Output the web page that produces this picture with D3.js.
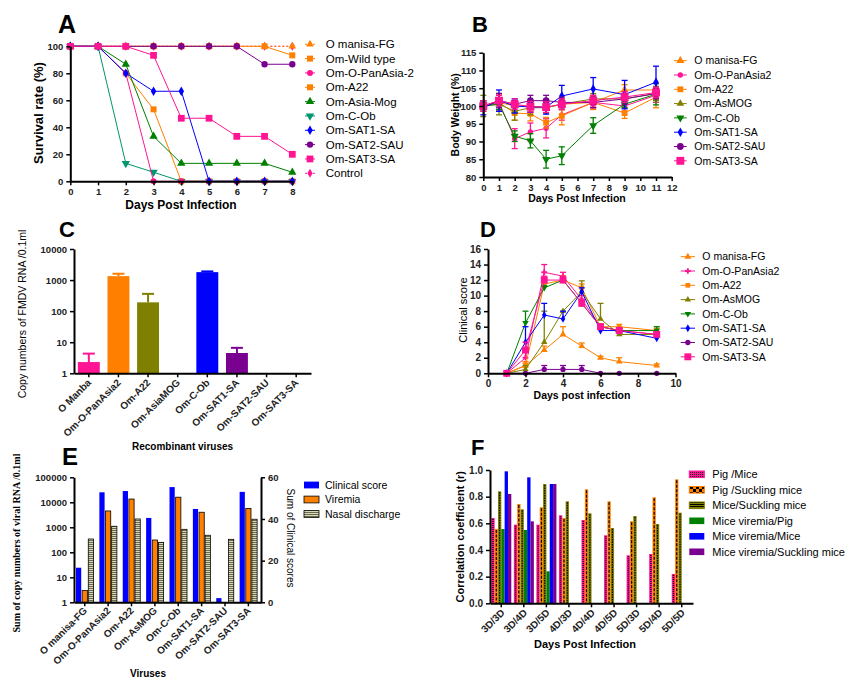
<!DOCTYPE html>
<html><head><meta charset="utf-8">
<script src="https://cdn.jsdelivr.net/npm/d3@7"></script>
<style>body{margin:0;background:#fff;}</style>
</head><body>
<svg id="c" width="857" height="690"></svg>
<script>
// ================= DATA =================
// Panel A – survival rate (%)
const daysA = [0,1,2,3,4,5,6,7,8];
const namesA = ["O manisa-FG","Om-Wild type","Om-O-PanAsia-2","Om-A22","Om-Asia-Mog","Om-C-Ob","Om-SAT1-SA","Om-SAT2-SAU","Om-SAT3-SA","Control"];
const survOManisaFG = [100,100,100,100,100,100,100,100,100];
const survWildType  = [100,100,100,100,100,100,100,100,93.3];
const survOPanAsia2 = [100,100,80,0,0,0,0,0,0];
const survA22       = [100,100,80,53.3,0,0,0,0,0];
const survAsiaMog   = [100,100,86.7,33.3,13.3,13.3,13.3,13.3,6.7];
const survCOb       = [100,100,13.3,6.7,0,0,0,0,0];
const survSAT1      = [100,100,80,66.7,66.7,0,0,0,0];
const survSAT2      = [100,100,100,100,100,100,100,86.7,86.7];
const survSAT3      = [100,100,100,93.3,46.7,46.7,33.3,33.3,20];
const survControl   = [100,100,100,100,100,100,100,100,100];
const ticksAy = [0,20,40,60,80,100];

// Panel B – body weight (%)
const daysB = [0,1,2,3,4,5,7,9,11];
const namesB = ["O manisa-FG","Om-O-PanAsia2","Om-A22","Om-AsMOG","Om-C-Ob","Om-SAT1-SA","Om-SAT2-SAU","Om-SAT3-SA"];
const bwOManisaFG = [100,101,100,100,99.5,100.5,101,104.5,104.5];
const bwOPanAsia2 = [100,101,90.8,92.7,93.7,97.5,101,100,103];
const bwA22       = [100,101,98,97.8,95.3,97.2,101,98,102.5];
const bwAsMOG     = [100,100.5,98.5,99.5,99.5,100.5,102,102,103.5];
const bwCOb       = [100,100.5,91.5,90.2,85,86,94.5,100.5,103.3];
const bwSAT1      = [99.5,101.5,100,99.7,99.7,102.8,104.8,103.2,106.7];
const bwSAT2      = [100,101.5,100.5,101.5,101.5,101,101,102,103.5];
const bwSAT3      = [100,101.5,100.5,99.8,99.7,100.5,101.5,102.5,103.8];
const bwErrOManisaFG = [1.5,2.5,1.5,1.5,1.5,1.5,1.5,1.5,2];
const bwErrOPanAsia2 = [1.5,2.5,2.8,2.5,2.7,1.5,1.5,1.5,2];
const bwErrA22       = [1,2,2,2,1.5,2.5,2,1.5,3];
const bwErrAsMOG     = [3,3,2.5,2,1.5,1.5,1.5,1.5,2];
const bwErrCOb       = [1,1.5,1.5,2,2.5,2.5,2.2,1,3];
const bwErrSAT1      = [2,3,2,1.5,2,3,3.2,4,4.5];
const bwErrSAT2      = [1,2,1,1.5,1.5,1.5,1.5,1.5,1.5];
const bwErrSAT3      = [1.5,1.5,1.5,1.5,1.5,1.5,1.5,1.5,1.5];
const ticksBy = [80,85,90,95,100,105,110,115];
const ticksBx = [0,1,2,3,4,5,6,7,8,9,10,11,12];

// Panel C – viral RNA copies
const virusesC = ["O Manba","Om-O-PanAsia2","Om-A22","Om-AsiaMOG","Om-C-Ob","Om-SAT1-SA","Om-SAT2-SAU","Om-SAT3-SA"];
const copiesC    = [2.3,1340,192,0,1800,4.5,0,0];
const copiesErrC = [2.0,260,168,0,100,2.1,0,0];
const ticksCy = [1,10,100,1000,10000];

// Panel D – clinical score
const daysD = [1,2,3,4,5,6,7,9];
const namesD = ["O manisa-FG","Om-O-PanAsia2","Om-A22","Om-AsMOG","Om-C-Ob","Om-SAT1-SA","Om-SAT2-SAU","Om-SAT3-SA"];
const csOManisaFG = [0,1,3,5,3.5,2,1.5,1];
const csOPanAsia2 = [0,2,13,12.5,9.5,6,5.5,5];
const csA22       = [0,1,11.5,12,11,6,6,5.5];
const csAsMOG     = [0,0.5,4,8,10.5,7,5,5];
const csCOb       = [0,6.5,11,12,9,6,5.5,5.5];
const csSAT1      = [0,4,7.5,7,10.5,5.5,5.5,4.5];
const csSAT2      = [0,0,0.5,0.5,0.5,0,0,0];
const csSAT3      = [0,3,12,12,9,6,5.5,5];
const csErrOManisaFG = [0,0.3,0.5,1,0.4,0.2,0.5,0.2];
const csErrOPanAsia2 = [0,1,1,0.5,0.5,0.3,0.3,0.3];
const csErrA22       = [0,0.5,0.5,0.5,0.5,0.3,0.3,0.3];
const csErrAsMOG     = [0,0.5,4,0,1.4,2,0.3,0.3];
const csErrCOb       = [0,1.5,0.3,0.3,0.3,0.3,0.3,0.5];
const csErrSAT1      = [0,2,1.5,1,0.5,0.3,0.3,0.3];
const csErrSAT2      = [0,0,0.5,0.5,0.5,0,0,0];
const csErrSAT3      = [0,1,0.5,0.5,0.5,0.3,0.3,0.3];
const ticksDy = [0,2,4,6,8,10,12,14,16];
const ticksDx = [0,2,4,6,8,10];

// Panel E – sums
const virusesE = ["O manisa-FG","Om-O-PanAsia2","Om-A22","Om-AsMOG","Om-C-Ob","Om-SAT1-SA","Om-SAT2-SAU","Om-SAT3-SA"];
const clinicalSumE = [16.6,52.8,53.4,40.5,55.3,44.8,2,53];
const viremiaE     = [3,4500,13500,310,16000,4000,0,5700];
const nasalE       = [340,1100,2150,250,830,480,330,2100];
const legendE = ["Clinical score","Viremia","Nasal discharge"];
const ticksEl = [1,10,100,1000,10000,100000];
const ticksEr = [0,20,40,60];

// Panel F – correlation coefficients
const pairsF = ["3D/3D","3D/4D","3D/5D","4D/3D","4D/4D","4D/5D","5D/3D","5D/4D","5D/5D"];
const namesF = ["Pig /Mice","Pig /Suckling mice","Mice/Suckling mice","Mice viremia/Pig","Mice viremia/Mice","Mice viremia/Suckling mice"];
const pigMiceF         = [0.64,0.59,0.59,0.66,0.625,0.51,0.36,0.37,0.22];
const pigSucklingF     = [0.557,0.745,0.72,0.64,0.855,0.765,0.615,0.795,0.93];
const miceSucklingF    = [0.84,0.705,0.895,0.765,0.675,0.565,0.655,0.595,0.68];
const viremiaPigF      = [0.557,0.55,0.24,0,0,0,0,0,0];
const viremiaMiceF     = [0.99,0.945,0.895,0,0,0,0,0,0];
const viremiaSucklingF = [0.82,0.615,0.895,0,0,0,0,0,0];
const ticksFy = [0,0.2,0.4,0.6,0.8,1.0];

// ================= STYLE =================
const FONT = '"Liberation Sans", Arial, sans-serif';
const TICKC = "#222";
const PINK = "#ff1493", ORANGE = "#ff8000", GREEN = "#008000", TEAL = "#00966e",
      BLUE = "#0000ff", PURPLE = "#7a0090", OLIVE = "#808000";

const svg = d3.select("#c");
svg.append("rect").attr("width",857).attr("height",690).attr("fill","#fff");
const defs = svg.append("defs");

function pattern(id, w, h, bg, draw){
  const p = defs.append("pattern").attr("id",id).attr("patternUnits","userSpaceOnUse").attr("width",w).attr("height",h);
  p.append("rect").attr("width",w).attr("height",h).attr("fill",bg);
  draw(p);
}
pattern("pPink",2,2,PINK,p=>{p.append("rect").attr("width",1).attr("height",1).attr("fill","#222");});
pattern("pOrange",6,6,ORANGE,p=>{p.append("rect").attr("width",3).attr("height",3).attr("fill","#000");p.append("rect").attr("x",3).attr("y",3).attr("width",3).attr("height",3).attr("fill","#000");});
pattern("pOlive",4,2,OLIVE,p=>{p.append("rect").attr("width",4).attr("height",1).attr("fill","#000");});
pattern("pNasal",4,2,"#d8d8b4",p=>{p.append("rect").attr("width",4).attr("height",1).attr("fill","#6a6a50");});

function styleAxis(g, fs){
  g.select(".domain").attr("stroke","#000").attr("stroke-width",2);
  g.selectAll(".tick line").attr("stroke","#000").attr("stroke-width",1.5);
  g.selectAll(".tick text").attr("font-family",FONT).attr("font-size",fs).attr("font-weight","bold").attr("fill",TICKC);
}
function rotTicks(g, dx, dy){
  g.selectAll(".tick text").attr("x",0).attr("y",0).attr("dy",0)
    .attr("text-anchor","end").attr("transform",`translate(${dx},${dy}) rotate(-45)`);
}
function txt(t, x, y, fs, opt={}){
  const e = svg.append("text").attr("x",0).attr("y",0).text(t)
    .attr("font-family",opt.family||FONT).attr("font-size",fs)
    .attr("font-weight",opt.bold?"bold":"normal").attr("fill",opt.fill||"#000")
    .attr("text-anchor",opt.anchor||"start")
    .attr("transform",`translate(${x},${y})${opt.rot?` rotate(${opt.rot})`:""}`);
  return e;
}
function symPath(st){
  const types = {tri:d3.symbolTriangle, down:d3.symbolTriangle, sq:d3.symbolSquare, circ:d3.symbolCircle, dia:d3.symbolDiamond, cross:d3.symbolCross};
  return d3.symbol().type(types[st.shape]).size(st.size)();
}
function drawSeries(g, xs, ys, xv, vals, st, errs, both){
  const line = d3.line().x((d,i)=>xs(xv[i])).y(d=>ys(d));
  g.append("path").attr("d",line(vals)).attr("fill","none").attr("stroke",st.color)
    .attr("stroke-width",st.w||1).attr("stroke-dasharray",st.dash||null);
  if(errs){
    vals.forEach((v,i)=>{
      if(!errs[i]) return;
      const x = xs(xv[i]);
      const ends = both ? [v+errs[i], v-errs[i]] : [v+errs[i]];
      ends.forEach(e=>{
        g.append("line").attr("x1",x).attr("x2",x).attr("y1",ys(v)).attr("y2",ys(e)).attr("stroke",st.color).attr("stroke-width",1.3);
        g.append("line").attr("x1",x-3).attr("x2",x+3).attr("y1",ys(e)).attr("y2",ys(e)).attr("stroke",st.color).attr("stroke-width",1.3);
      });
    });
  }
  const sp = symPath(st);
  g.selectAll(null).data(vals).join("path").attr("d",sp).attr("fill",st.color)
    .attr("transform",(d,i)=>`translate(${xs(xv[i])},${ys(d)})${st.shape==="down"?" rotate(180)":""}`);
}
function legendRow(x1, x2, xt, y, name, st, fs){
  svg.append("line").attr("x1",x1).attr("x2",x2).attr("y1",y).attr("y2",y).attr("stroke",st.color)
    .attr("stroke-width",st.w||1).attr("stroke-dasharray",st.dash||null);
  svg.append("path").attr("d",symPath(st)).attr("fill",st.color)
    .attr("transform",`translate(${(x1+x2)/2},${y})${st.shape==="down"?" rotate(180)":""}`);
  txt(name, xt, y+fs*0.36, fs);
}

// ================= PANEL A =================
{
  const x = d3.scaleLinear().domain([0,8]).range([70.3,292.3]);
  const y = d3.scaleLinear().domain([0,100]).range([181.3,46.3]);
  const g = svg.append("g");
  const stA = [
    {color:ORANGE,shape:"tri",size:26,dash:"2,2"},
    {color:ORANGE,shape:"sq",size:36},
    {color:PINK,shape:"circ",size:28},
    {color:ORANGE,shape:"sq",size:36},
    {color:GREEN,shape:"tri",size:30},
    {color:TEAL,shape:"down",size:30},
    {color:BLUE,shape:"dia",size:26},
    {color:PURPLE,shape:"circ",size:32},
    {color:PINK,shape:"sq",size:46},
    {color:PINK,shape:"dia",size:24,dash:"2,2"}
  ];
  const valsA = [survOManisaFG,survWildType,survOPanAsia2,survA22,survAsiaMog,survCOb,survSAT1,survSAT2,survSAT3,survControl];
  const order = [9,0,1,7,3,4,5,2,6,8];
  order.forEach(i=>drawSeries(g,x,y,daysA,valsA[i],stA[i]));
  const ax = svg.append("g").attr("transform",`translate(0,${y(0)})`)
    .call(d3.axisBottom(x).tickValues(daysA).tickSize(4).tickSizeOuter(0).tickPadding(3));
  styleAxis(ax,9.5);
  const ay = svg.append("g").attr("transform",`translate(${x(0)},0)`)
    .call(d3.axisLeft(y).tickValues(ticksAy).tickSize(4).tickSizeOuter(0).tickPadding(3));
  styleAxis(ay,9.5);
  namesA.forEach((n,i)=>legendRow(305,315,325.7,44.3+i*14.33,n,stA[i],11.5));
  txt("A",58,33,25,{bold:true});
  txt("Survival rate (%)",43,113,13,{bold:true,anchor:"middle",rot:-90});
  txt("Days Post Infection",181,209,12,{bold:true,anchor:"middle"});
}

// ================= PANEL B =================
{
  const x = d3.scaleLinear().domain([0,12]).range([483.3,671.7]);
  const y = d3.scaleLinear().domain([80,115]).range([177,52.7]);
  const g = svg.append("g");
  const stB = [
    {color:ORANGE,shape:"tri",size:28},
    {color:PINK,shape:"circ",size:22},
    {color:ORANGE,shape:"sq",size:34},
    {color:OLIVE,shape:"tri",size:26},
    {color:GREEN,shape:"down",size:28},
    {color:BLUE,shape:"dia",size:26},
    {color:PURPLE,shape:"circ",size:36},
    {color:PINK,shape:"sq",size:62}
  ];
  const valsB = [bwOManisaFG,bwOPanAsia2,bwA22,bwAsMOG,bwCOb,bwSAT1,bwSAT2,bwSAT3];
  const errB = [bwErrOManisaFG,bwErrOPanAsia2,bwErrA22,bwErrAsMOG,bwErrCOb,bwErrSAT1,bwErrSAT2,bwErrSAT3];
  valsB.forEach((v,i)=>drawSeries(g,x,y,daysB,v,stB[i],errB[i],true));
  const ax = svg.append("g").attr("transform",`translate(0,${y(80)})`)
    .call(d3.axisBottom(x).tickValues(ticksBx).tickSize(4).tickSizeOuter(0).tickPadding(3));
  styleAxis(ax,9.5);
  const ay = svg.append("g").attr("transform",`translate(${x(0)},0)`)
    .call(d3.axisLeft(y).tickValues(ticksBy).tickSize(4).tickSizeOuter(0).tickPadding(3));
  styleAxis(ay,9.5);
  namesB.forEach((n,i)=>legendRow(674,686.7,694.3,60.7+i*14.3,n,stB[i],10.5));
  txt("B",472,32,22,{bold:true});
  txt("Body Weight (%)",459,114.8,10.5,{bold:true,anchor:"middle",rot:-90});
  txt("Days Post Infection",577,202,10.5,{bold:true,anchor:"middle"});
}

// ================= PANEL C =================
{
  const x = d3.scaleBand().domain(virusesC).range([74,311]).paddingInner(0.26).paddingOuter(0.13);
  const y = d3.scaleLog().domain([1,10000]).range([373.3,249]);
  const colC = [PINK,ORANGE,OLIVE,OLIVE,BLUE,PURPLE,"#000","#000"];
  const g = svg.append("g");
  virusesC.forEach((c,i)=>{
    const v = copiesC[i]; if(!v) return;
    const cx = x(c)+x.bandwidth()/2;
    const top = v+copiesErrC[i];
    g.append("line").attr("x1",cx).attr("x2",cx).attr("y1",y(v)).attr("y2",y(top)).attr("stroke",colC[i]).attr("stroke-width",2);
    g.append("line").attr("x1",cx-6).attr("x2",cx+6).attr("y1",y(top)).attr("y2",y(top)).attr("stroke",colC[i]).attr("stroke-width",2);
    g.append("rect").attr("x",x(c)).attr("width",x.bandwidth()).attr("y",y(v)).attr("height",y(1)-y(v)).attr("fill",colC[i]);
  });
  const ax = svg.append("g").attr("transform",`translate(0,${y(1)})`)
    .call(d3.axisBottom(x).tickSize(4).tickSizeOuter(0));
  styleAxis(ax,10);
  rotTicks(ax,3,10);
  const ay = svg.append("g").attr("transform",`translate(74,0)`)
    .call(d3.axisLeft(y).tickValues(ticksCy).tickFormat(d3.format("d")).tickSize(4).tickSizeOuter(0).tickPadding(3));
  styleAxis(ay,9.5);
  txt("C",59,237,22,{bold:true});
  txt("Copy numbers of FMDV RNA /0.1ml",25.5,314,10.5,{anchor:"middle",rot:-90});
  txt("Recombinant viruses",182.5,450,10,{bold:true,anchor:"middle"});
}

// ================= PANEL D =================
{
  const x = d3.scaleLinear().domain([0,10]).range([488,675.5]);
  const y = d3.scaleLinear().domain([0,16]).range([373.3,249]);
  const g = svg.append("g");
  const stD = [
    {color:ORANGE,shape:"tri",size:20},
    {color:PINK,shape:"cross",size:18},
    {color:ORANGE,shape:"sq",size:22},
    {color:OLIVE,shape:"tri",size:18},
    {color:GREEN,shape:"down",size:18},
    {color:BLUE,shape:"dia",size:18},
    {color:PURPLE,shape:"circ",size:22},
    {color:PINK,shape:"sq",size:48}
  ];
  const valsD = [csOManisaFG,csOPanAsia2,csA22,csAsMOG,csCOb,csSAT1,csSAT2,csSAT3];
  const errD = [csErrOManisaFG,csErrOPanAsia2,csErrA22,csErrAsMOG,csErrCOb,csErrSAT1,csErrSAT2,csErrSAT3];
  valsD.forEach((v,i)=>drawSeries(g,x,y,daysD,v,stD[i],errD[i],false));
  const ax = svg.append("g").attr("transform",`translate(0,${y(0)})`)
    .call(d3.axisBottom(x).tickValues(ticksDx).tickSize(4).tickSizeOuter(0).tickPadding(3));
  styleAxis(ax,10);
  const ay = svg.append("g").attr("transform",`translate(${x(0)},0)`)
    .call(d3.axisLeft(y).tickValues(ticksDy).tickSize(4).tickSizeOuter(0).tickPadding(3));
  styleAxis(ay,10);
  namesD.forEach((n,i)=>legendRow(680.7,695,702.3,256.7+i*14.3,n,stD[i],10.5));
  txt("D",480,237,22,{bold:true});
  txt("Clinical score",467,310,11,{anchor:"middle",rot:-90});
  txt("Days post infection",582,399,10.5,{bold:true,anchor:"middle"});
}

// ================= PANEL E =================
{
  const x = d3.scaleBand().domain(virusesE).range([74,261]);
  const sub = d3.scaleBand().domain([0,1,2]).range([2,19.5]).paddingInner(0.15);
  const yL = d3.scaleLog().domain([1,100000]).range([602.3,477.3]);
  const yR = d3.scaleLinear().domain([0,60]).range([602.3,477.3]);
  const g = svg.append("g");
  virusesE.forEach((c,i)=>{
    const b0 = x(c);
    if(clinicalSumE[i]) g.append("rect").attr("x",b0+sub(0)).attr("width",sub.bandwidth()).attr("y",yR(clinicalSumE[i])).attr("height",yR(0)-yR(clinicalSumE[i])).attr("fill",BLUE);
    if(viremiaE[i]) g.append("rect").attr("x",b0+sub(1)).attr("width",sub.bandwidth()).attr("y",yL(viremiaE[i])).attr("height",yL(1)-yL(viremiaE[i])).attr("fill",ORANGE).attr("stroke","#000").attr("stroke-width",0.8);
    if(nasalE[i]) g.append("rect").attr("x",b0+sub(2)).attr("width",sub.bandwidth()).attr("y",yL(nasalE[i])).attr("height",yL(1)-yL(nasalE[i])).attr("fill","url(#pNasal)").attr("stroke","#000").attr("stroke-width",0.8);
  });
  const ax = svg.append("g").attr("transform",`translate(0,${yL(1)})`)
    .call(d3.axisBottom(x).tickSize(4).tickSizeOuter(0));
  ax.selectAll(".tick").attr("transform",d=>`translate(${x(d)+sub(1)+sub.bandwidth()/2},0)`);
  styleAxis(ax,10);
  rotTicks(ax,3,9);
  const ay = svg.append("g").attr("transform",`translate(74,0)`)
    .call(d3.axisLeft(yL).tickValues(ticksEl).tickFormat(d3.format("d")).tickSize(4).tickSizeOuter(0).tickPadding(3));
  styleAxis(ay,9.5);
  const ar = svg.append("g").attr("transform",`translate(261,0)`)
    .call(d3.axisRight(yR).tickValues(ticksEr).tickSize(4).tickSizeOuter(0).tickPadding(3));
  styleAxis(ar,9.5);
  const fills = [BLUE,ORANGE,"url(#pNasal)"];
  legendE.forEach((n,i)=>{
    const cy = 485+i*14.5;
    svg.append("rect").attr("x",304).attr("y",cy-3.4).attr("width",15).attr("height",6.8).attr("fill",fills[i]).attr("stroke",i?"#000":"none").attr("stroke-width",0.8);
    txt(n,325,cy+3.8,10.5);
  });
  txt("E",62,465,24,{bold:true});
  txt("Sum of copy numbers of viral RNA /0.1ml",20,543,10,{bold:true,anchor:"middle",rot:-90,family:'"Liberation Serif", "Times New Roman", serif'});
  txt("Sum of Clinical scores",286.5,538,10,{anchor:"middle",rot:90});
  txt("Viruses",148,677,10,{bold:true,anchor:"middle"});
}

// ================= PANEL F =================
{
  const x = d3.scaleBand().domain(pairsF).range([490,693]);
  const sub = d3.scaleBand().domain([0,1,2,3,4,5]).range([1.3,21.3]);
  const y = d3.scaleLinear().domain([0,1]).range([603.3,470]);
  const valsF = [pigMiceF,pigSucklingF,miceSucklingF,viremiaPigF,viremiaMiceF,viremiaSucklingF];
  const colF = [PINK,ORANGE,OLIVE,GREEN,BLUE,PURPLE];
  const dashF = ["1,1","3,1.5","1.5,1",null,null,null];
  const g = svg.append("g");
  valsF.forEach((vals,s)=>{
    vals.forEach((v,i)=>{
      if(!v) return;
      const bx = x(pairsF[i])+sub(s);
      g.append("rect").attr("x",bx).attr("width",sub.bandwidth()).attr("y",y(v)).attr("height",y(0)-y(v)).attr("fill",colF[s]);
      if(dashF[s]) g.append("line").attr("x1",bx+sub.bandwidth()/2).attr("x2",bx+sub.bandwidth()/2).attr("y1",y(v)+1).attr("y2",y(0)).attr("stroke","#000").attr("stroke-width",1.2).attr("stroke-dasharray",dashF[s]);
    });
  });
  const ax = svg.append("g").attr("transform",`translate(0,${y(0)})`)
    .call(d3.axisBottom(x).tickSize(4).tickSizeOuter(0));
  styleAxis(ax,10);
  rotTicks(ax,4,10);
  const ay = svg.append("g").attr("transform",`translate(490,0)`)
    .call(d3.axisLeft(y).tickValues(ticksFy).tickFormat(d3.format(".1f")).tickSize(4).tickSizeOuter(0).tickPadding(3));
  styleAxis(ay,10);
  const legFill = ["url(#pPink)","url(#pOrange)","url(#pOlive)",GREEN,BLUE,PURPLE];
  namesF.forEach((n,i)=>{
    const cy = 474.3+i*15.5;
    svg.append("rect").attr("x",689.3).attr("y",cy-3.3).attr("width",15).attr("height",6.6).attr("fill",legFill[i]).attr("stroke",i<3?colF[i]:"none").attr("stroke-width",1);
    txt(n,712.3,cy+4,11);
  });
  txt("F",471,455,22,{bold:true});
  txt("Correlation coefficient (r)",464,536.7,11,{bold:true,anchor:"middle",rot:-90});
  txt("Days Post Infection",585,648,11,{bold:true,anchor:"middle"});
}
</script>
</body></html>
